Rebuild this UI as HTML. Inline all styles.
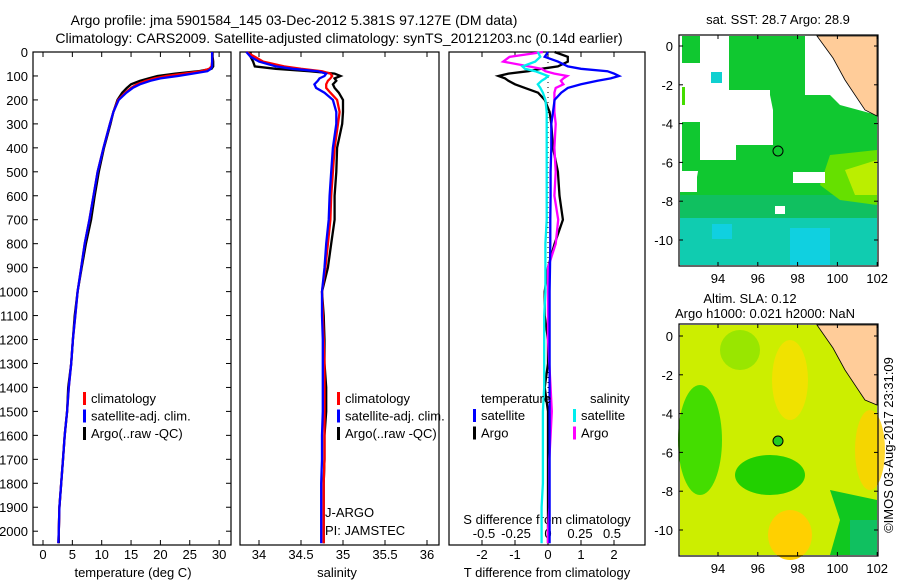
<!DOCTYPE html>
<html><head><meta charset="utf-8"><style>
html,body{margin:0;padding:0;background:#fff}
svg{display:block;font-family:"Liberation Sans",sans-serif}
</style></head><body>
<svg id="c" width="900" height="580" viewBox="0 0 900 580">
<text x="294" y="25" font-size="14" text-anchor="middle">Argo profile: jma 5901584_145 03-Dec-2012 5.381S 97.127E (DM data)</text>
<text x="339" y="43" font-size="14" text-anchor="middle">Climatology: CARS2009. Satellite-adjusted climatology: synTS_20121203.nc (0.14d earlier)</text>
<g id="maps"></g>
<g id="plots"></g>
</svg>
<script>
const depths=[0,20,40,60,70,80,90,100,110,120,135,150,170,200,250,300,400,500,600,700,800,900,1000,1100,1200,1300,1400,1500,1600,1700,1800,1900,2000,2050];
const tClim=[28.8,28.8,28.8,28.7,28.3,27,24,21,19,17.5,16,15,14,12.8,12,11.4,10.3,9.3,8.6,7.9,7.1,6.5,5.9,5.5,5.1,4.8,4.4,4.1,3.7,3.4,3.1,2.8,2.7,2.6];
const tSat=[28.8,28.8,28.8,28.8,28.6,28,25.5,23,20,18.3,16.5,15.3,14.2,12.9,12,11.4,10.3,9.3,8.6,7.9,7.1,6.5,5.9,5.5,5.1,4.8,4.4,4.1,3.7,3.4,3.1,2.8,2.7,2.6];
const tArgo=[28.9,28.9,29.0,29,28.7,26.5,22.5,19.5,18,16.5,15,14.3,13.5,12.7,12,11.5,10.4,9.5,8.8,8.2,7.3,6.6,5.9,5.4,5.1,4.8,4.3,4.1,3.7,3.4,3.1,2.8,2.7,2.7];
const sClim=[33.85,33.95,34.05,34.3,34.5,34.75,34.85,34.87,34.85,34.82,34.8,34.8,34.85,34.93,34.96,34.94,34.9,34.88,34.86,34.85,34.82,34.79,34.75,34.76,34.77,34.78,34.78,34.78,34.78,34.78,34.77,34.77,34.77,34.77];
const sSat=[33.85,33.9,34.0,34.2,34.4,34.7,34.8,34.78,34.72,34.7,34.66,34.68,34.78,34.88,34.92,34.92,34.88,34.86,34.84,34.83,34.8,34.78,34.75,34.75,34.76,34.76,34.76,34.76,34.75,34.75,34.74,34.74,34.74,34.74];
const sArgo=[33.9,33.9,33.93,33.95,34.2,34.6,34.9,34.97,34.9,34.92,34.88,34.9,34.95,35.0,35.0,34.99,34.93,34.92,34.9,34.9,34.86,34.82,34.75,34.77,34.78,34.78,34.8,34.8,34.78,34.78,34.77,34.77,34.77,34.77];
const tdSat=[0,-0.1,0.3,0.6,1.0,1.8,2.0,2.15,1.9,1.5,1.0,0.6,0.4,0.2,0.15,0.1,0.1,0.08,0.08,0.07,0.07,0.06,0.05,0.05,0.05,0.05,0.05,0.05,0.05,0.05,0.05,0.05,0.05,0.05];
const tdArgo=[0.2,0.6,0.6,0.3,-0.2,-0.6,-1.2,-1.5,-1.3,-1.2,-1.0,-0.7,-0.3,-0.1,0.05,0.1,0.15,0.3,0.35,0.45,0.2,0,-0.1,-0.1,0,0,-0.1,0,0,0,0,0,0,0];
const sdSat=[-0.08,-0.06,-0.1,-0.2,-0.18,-0.1,-0.05,0,-0.02,-0.05,-0.08,-0.06,-0.04,-0.02,-0.01,-0.01,-0.01,-0.01,-0.01,-0.01,-0.02,-0.02,-0.02,-0.03,-0.03,-0.03,-0.03,-0.04,-0.04,-0.04,-0.04,-0.05,-0.05,-0.05];
const sdArgo=[-0.04,-0.3,-0.35,-0.15,-0.05,-0.02,0.05,0.15,0.12,0.1,0.12,0.06,0.05,0.05,0.05,0.06,0.05,0.06,0.05,0.08,0.06,0.0,0,0,0,0.01,0.02,0.03,0.02,0.01,0.01,0.01,0,0];
const depthTicks=[0,100,200,300,400,500,600,700,800,900,1000,1100,1200,1300,1400,1500,1600,1700,1800,1900,2000];
const tTicks=[0,5,10,15,20,25,30];
const sTicks=[34,34.5,35,35.5,36];
const tdTicks=[-2,-1,0,1,2];
const sdTicks=[-0.5,-0.25,0,0.25,0.5];
const sdTickLabels=["-0.5","-0.25","0","0.25","0.5"];

const NS="http://www.w3.org/2000/svg";
function mk(parent,tag,attrs){const e=document.createElementNS(NS,tag);for(const k in attrs)e.setAttribute(k,attrs[k]);parent.appendChild(e);return e;}
const plots=document.getElementById('plots');
const Y=d=>52+d*0.2396;
const TOP=52,BOT=545;
const xT=v=>43+v*5.87;
const xS=v=>259+(v-34)*84;
const xTd=v=>548+v*33;
const xSd=v=>548+v*128;

function frame(x0,x1,name){
  const r=mk(plots,'rect',{x:x0,y:TOP,width:x1-x0,height:BOT-TOP,fill:'none',stroke:'#000','stroke-width':1.2});
  
  
}
frame(33,231,'temperature-panel');
frame(240,439,'salinity-panel');
frame(449,645,'difference-panel');

depthTicks.forEach(d=>{
  const t=mk(plots,'text',{x:28,y:Y(d)+5,'font-size':13,'text-anchor':'end'});t.textContent=d;
  
  
  mk(plots,'line',{x1:33,x2:38,y1:Y(d),y2:Y(d),stroke:'#000'});
  mk(plots,'line',{x1:226,x2:231,y1:Y(d),y2:Y(d),stroke:'#000'});
});
function xticks(ticks,fx,labels,y,name){
  ticks.forEach((v,i)=>{
    const x=fx(v);
    mk(plots,'line',{x1:x,x2:x,y1:TOP,y2:TOP+5,stroke:'#000'});
    mk(plots,'line',{x1:x,x2:x,y1:BOT-5,y2:BOT,stroke:'#000'});
    const t=mk(plots,'text',{x:x,y:y,'font-size':13,'text-anchor':'middle'});t.textContent=labels?labels[i]:v;
    
    
  });
}
xticks(tTicks,xT,null,559,'temperature-tick-label');
xticks(sTicks,xS,null,559,'salinity-tick-label');
xticks(tdTicks,xTd,null,559,'t-difference-tick-label');
sdTicks.forEach((v,i)=>{
  const t=mk(plots,'text',{x:xSd(v),y:538,'font-size':13,'text-anchor':'middle'});t.textContent=sdTickLabels[i];
  
  
});
function label(x,y,s,name,anchor){const t=mk(plots,'text',{x:x,y:y,'font-size':13,'text-anchor':anchor||'middle'});t.textContent=s;
  
  }
label(133,577,'temperature (deg C)','temperature-axis-title');
label(337,577,'salinity','salinity-axis-title');
label(547,577,'T difference from climatology','t-difference-axis-title');
label(547,524,'S difference from climatology','s-difference-axis-title');
label(325,517,'J-ARGO','agency-label','start');
label(325,535,'PI: JAMSTEC','pi-label','start');

const z=mk(plots,'line',{x1:548,x2:548,y1:TOP,y2:BOT,stroke:'#000','stroke-dasharray':'1,4'});



function series(vals,fx,color,name){
  const pts=vals.map((v,i)=>fx(v).toFixed(1)+','+Y(depths[i]).toFixed(1)).join(' ');
  const p=mk(plots,'polyline',{points:pts,fill:'none',stroke:color,'stroke-width':2.3});
  
  
}
series(tArgo,xT,'#000','temperature-argo');
series(tClim,xT,'#f00','temperature-climatology');
series(tSat,xT,'#00f','temperature-satellite-adj');
series(sArgo,xS,'#000','salinity-argo');
series(sClim,xS,'#f00','salinity-climatology');
series(sSat,xS,'#00f','salinity-satellite-adj');
series(tdArgo,xTd,'#000','t-diff-argo');
series(sdArgo,xSd,'#f0f','s-diff-argo');
series(tdSat,xTd,'#00f','t-diff-satellite');
series(sdSat,xSd,'#0ee','s-diff-satellite');

function legend(x,y,items,name){
  items.forEach((it,i)=>{
    mk(plots,'rect',{x:x,y:y+i*17.5-11,width:3,height:13,fill:it[1]});
    const t=mk(plots,'text',{x:x+8,y:y+i*17.5,'font-size':13});t.textContent=it[0];
    
    
  });
}
legend(83,403,[['climatology','#f00'],['satellite-adj. clim.','#00f'],['Argo(..raw -QC)','#000']],'temp-legend');
legend(337,403,[['climatology','#f00'],['satellite-adj. clim.','#00f'],['Argo(..raw -QC)','#000']],'sal-legend');
label(481,403,'temperature','diff-legend-temperature-header','start');
label(590,403,'salinity','diff-legend-salinity-header','start');
legend(473,420,[['satellite','#00f'],['Argo','#000']],'diff-legend-t');
legend(573,420,[['satellite','#0ee'],['Argo','#f0f']],'diff-legend-s');

const maps=document.getElementById('maps');
function mapAxes(y0,y1,lat0y,name){
  const lx=v=>718+(v-94)*19.9;
  const ly=v=>lat0y-v*19.4;
  [94,96,98,100,102].forEach(v=>{
    mk(maps,'line',{x1:lx(v),x2:lx(v),y1:y0,y2:y0+4,stroke:'#000'});
    mk(maps,'line',{x1:lx(v),x2:lx(v),y1:y1-4,y2:y1,stroke:'#000'});
    const t=mk(maps,'text',{x:lx(v),y:y1+17,'font-size':13,'text-anchor':'middle'});t.textContent=v;
    
    
  });
  [0,-2,-4,-6,-8,-10].forEach(v=>{
    mk(maps,'line',{x1:679,x2:683,y1:ly(v),y2:ly(v),stroke:'#000'});
    mk(maps,'line',{x1:874,x2:878,y1:ly(v),y2:ly(v),stroke:'#000'});
    const t=mk(maps,'text',{x:673,y:ly(v)+5,'font-size':13,'text-anchor':'end'});t.textContent=v;
    
    
  });
  const r=mk(maps,'rect',{x:679,y:y0,width:199,height:y1-y0,fill:'none',stroke:'#000','stroke-width':1.2});
  
  
}
// SST map
mk(maps,'polygon',{points:'729,36 805,36 805,95 830,95 840,105 877,115 877,265 680,265 680,192 697,192 697,177 700,160 736,160 736,145 773,145 773,110 770,95 770,90 729,90',fill:'#10c830'});
mk(maps,'rect',{x:682,y:36,width:18,height:27,fill:'#10c830'});
mk(maps,'rect',{x:682,y:122,width:18,height:49,fill:'#10c830'});
mk(maps,'rect',{x:682,y:87,width:3,height:18,fill:'#44dd00'});
mk(maps,'rect',{x:680,y:195,width:197,height:70,fill:'#10c060'});
mk(maps,'rect',{x:680,y:218,width:197,height:47,fill:'#10ccb0'});
mk(maps,'rect',{x:790,y:228,width:40,height:37,fill:'#10d0e0'});
mk(maps,'rect',{x:712,y:224,width:20,height:15,fill:'#10d0e0'});
mk(maps,'polygon',{points:'830,155 877,150 877,205 840,200 820,185',fill:'#66e000'});
mk(maps,'polygon',{points:'845,170 877,160 877,195 855,195',fill:'#bbee00'});
mk(maps,'rect',{x:793,y:172,width:32,height:11,fill:'#fff'});
mk(maps,'rect',{x:775,y:206,width:10,height:8,fill:'#fff'});
mk(maps,'rect',{x:711,y:72,width:11,height:11,fill:'#10d0d0'});
mk(maps,'polygon',{points:'817,36 877,36 877,116 865,110 845,80 833,58',fill:'#ffcc99',stroke:'#000','stroke-width':0.8});
const c1=mk(maps,'circle',{cx:778,cy:151,r:5,fill:'none',stroke:'#000'});


const st=mk(maps,'text',{x:778,y:24,'font-size':13,'text-anchor':'middle'});st.textContent='sat. SST: 28.7 Argo: 28.9';


mapAxes(35,266,46,'sst-map');
// SLA map
mk(maps,'rect',{x:680,y:325,width:197,height:230,fill:'#ccee00'});
mk(maps,'ellipse',{cx:700,cy:440,rx:22,ry:55,fill:'#44dd00'});
mk(maps,'ellipse',{cx:770,cy:475,rx:35,ry:20,fill:'#22d000'});
mk(maps,'ellipse',{cx:740,cy:350,rx:20,ry:20,fill:'#99e600'});
mk(maps,'polygon',{points:'830,490 877,500 877,555 830,555 840,520',fill:'#10c820'});
mk(maps,'rect',{x:850,y:520,width:27,height:35,fill:'#10c060'});
mk(maps,'ellipse',{cx:790,cy:535,rx:22,ry:25,fill:'#ffd000'});
mk(maps,'ellipse',{cx:790,cy:380,rx:18,ry:40,fill:'#ffdd00',opacity:0.7});
mk(maps,'ellipse',{cx:870,cy:450,rx:15,ry:40,fill:'#ffd000',opacity:0.8});
mk(maps,'polygon',{points:'817,325 877,325 877,405 865,400 845,370 833,348',fill:'#ffcc99',stroke:'#000','stroke-width':0.8});
const c2=mk(maps,'circle',{cx:778,cy:441,r:5,fill:'#22cc22',stroke:'#000'});


const s1=mk(maps,'text',{x:750,y:303,'font-size':13,'text-anchor':'middle'});s1.textContent='Altim. SLA: 0.12';


const s2=mk(maps,'text',{x:765,y:318,'font-size':13,'text-anchor':'middle'});s2.textContent='Argo h1000: 0.021 h2000: NaN';


mapAxes(324,556,336,'sla-map');
const cp=mk(maps,'text',{x:893,y:445,'font-size':13,'text-anchor':'middle',transform:'rotate(-90 893 445)'});cp.textContent='©IMOS 03-Aug-2017 23:31:09';


</script>
</body></html>
